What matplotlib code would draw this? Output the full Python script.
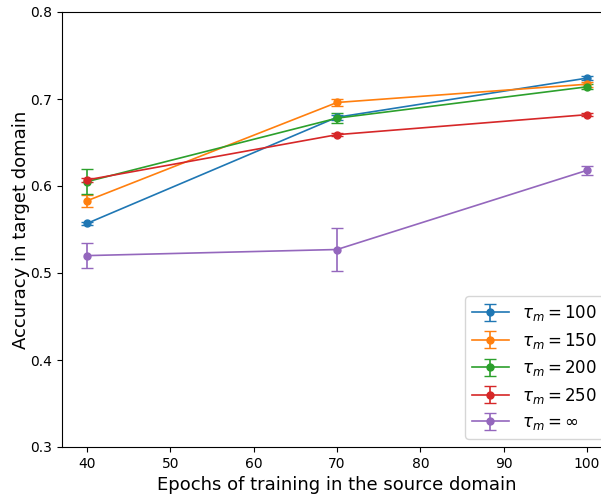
import matplotlib
matplotlib.use("Agg")
import matplotlib.pyplot as plt

epochs = [40, 70, 100]

acc_100 = [0.557, 0.679, 0.724]
err_100 = [0.002, 0.003, 0.002]
acc_150 = [0.583, 0.696, 0.717]
err_150 = [0.007, 0.004, 0.003]
acc_200 = [0.605, 0.678, 0.714]
err_200 = [0.014, 0.006, 0.003]
acc_250 = [0.607, 0.659, 0.682]
err_250 = [0.002, 0.002, 0.002]
acc_inf = [0.520, 0.527, 0.618]
err_inf = [0.014, 0.025, 0.005]

labels = [r'$\tau_m = 100$', r'$\tau_m = 150$', r'$\tau_m = 200$',
          r'$\tau_m = 250$', r'$\tau_m = \infty$']

fig = plt.figure(figsize=(6.01, 4.94), dpi=100)
ax = fig.add_axes([62 / 601, 47 / 494, 550 / 601, 435 / 494])

series = [(acc_100, err_100), (acc_150, err_150), (acc_200, err_200),
          (acc_250, err_250), (acc_inf, err_inf)]
for (acc, err), lab in zip(series, labels):
    ax.errorbar(epochs, acc, yerr=err, marker='o', markersize=5,
                capsize=4, linewidth=1.2, label=lab)

ax.set_xlim(37, 103)
ax.set_ylim(0.3, 0.8)
ax.set_xticks([40, 50, 60, 70, 80, 90, 100])
ax.tick_params(labelsize=10)
ax.set_xlabel('Epochs of training in the source domain', fontsize=13)
ax.set_ylabel('Accuracy in target domain', fontsize=13, labelpad=0)
ax.legend(loc='lower right', fontsize=12, handlelength=2.2, labelspacing=0.45)

fig.savefig('out.png', dpi=100)
